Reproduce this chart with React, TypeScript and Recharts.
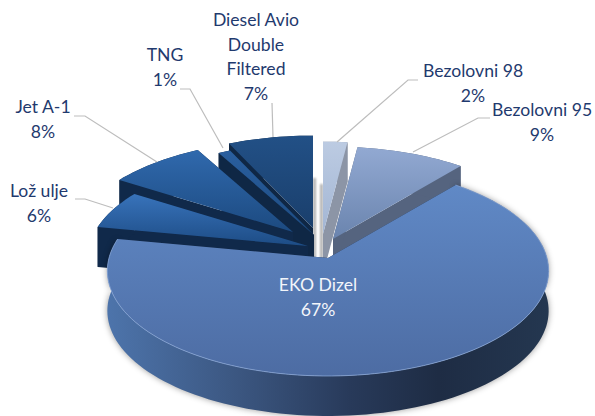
import { Pie, PieChart } from "recharts"

// listed counter-clockwise from 12 o'clock, so the back slices paint first
const categories = ["Diesel Avio\nDouble\nFiltered", "TNG", "Jet A-1", "Lož ulje", "EKO Dizel", "Bezolovni 95", "Bezolovni 98"]
const shares = [7, 1, 8, 6, 67, 9, 2]
const data = categories.map((name, i) => ({ name, value: shares[i] }))

const BIG = 4 // index of the big slice, painted on its own pass
const DEPTH = 40
const SQUASH = 0.473
const PERSPECTIVE = 0.122

// explode offsets, pixels from the pie centre
const OFFSETS = [[-15, -30], [-14, -23], [-35, -26], [-20, -12], [0, 0], [5, -19], [-5, -24]]
const TOP_COLORS = [
  ["#225086", "#1a3f6c"],
  ["#2a5f9f", "#1c4a80"],
  ["#3069ad", "#1c4a80"],
  ["#3873bb", "#1d4c85"],
  ["#6089c6", "#4d6ca3"],
  ["#92a9d2", "#6a84ae"],
  ["#bccbe2", "#a3b6d4"],
]
const WALL_COLORS = ["#0f2745", "#0f2745", "#10294a", "#10294a", "url(#bigWall)", "#55647f", "#8c95a6"]
// soft shade in the gap next to the 12 o'clock cut
const GAP_SHADE_X = [0, null, null, null, null, null, -3]

const LABEL_X = [256, 165, 43, 39, 318, 542, 473]
const LABEL_Y = [22, 57, 109, 193, 287, 112, 73]
const LEADERS = [
  "273,137 272,103",
  "223,148 190,89 180,89",
  "157,162 85,116 74,116",
  "113,208 85,199 75,199",
  "",
  "413,152 478,118 490,118",
  "337,142 408,80 418,80",
]

const project = (angle: number, r: number) => {
  const rad = (angle * Math.PI) / 180
  const w = 1 + PERSPECTIVE * Math.sin(rad)
  return { x: (r * Math.cos(rad)) / w, y: (-r * SQUASH * Math.sin(rad)) / w }
}

const Slice = ({ cx, cy, outerRadius, startAngle, endAngle, index }: any) => {
  const [ox, oy] = OFFSETS[index]
  const ax = cx + ox
  const ay = cy + oy
  const arc: { x: number; y: number }[] = []
  const steps = Math.max(2, Math.ceil(Math.abs(startAngle - endAngle) / 2))
  for (let s = 0; s <= steps; s++) {
    const p = project(startAngle + ((endAngle - startAngle) * s) / steps, outerRadius)
    arc.push({ x: ax + p.x, y: ay + p.y })
  }
  const line = arc.map((p) => `${p.x},${p.y}`).join(" L")
  const lowered = [...arc].reverse().map((p) => `${p.x},${p.y + DEPTH}`).join(" L")
  const first = arc[0]
  const last = arc[arc.length - 1]
  const wall = WALL_COLORS[index]
  const flat = index === BIG ? "#1f2e47" : wall
  const shade = GAP_SHADE_X[index]
  return (
    <g>
      {shade !== null && (
        <rect
          x={ax + shade}
          y={ay - 50}
          width={3}
          height={85}
          fill="#8f8f8f"
          opacity={0.7}
          style={{ filter: "blur(1px)" }}
        />
      )}
      <path d={`M${ax},${ay} L${first.x},${first.y} L${first.x},${first.y + DEPTH} L${ax},${ay + DEPTH}Z`} fill={flat} />
      <path d={`M${ax},${ay} L${last.x},${last.y} L${last.x},${last.y + DEPTH} L${ax},${ay + DEPTH}Z`} fill={flat} />
      <path
        d={`M${line} L${lowered}Z`}
        fill={wall}
        style={index === BIG ? { filter: "drop-shadow(0 0 3px rgba(0,0,0,.4))" } : undefined}
      />
      <path d={`M${ax},${ay} L${line}Z`} fill={`url(#top${index})`} />
      {index === BIG && <path d={`M${line}`} fill="none" stroke="#86a5d6" strokeWidth={0.8} />}
    </g>
  )
}

const SliceLabel = ({ index, name, value }: any) => {
  const lines = [...String(name).split("\n"), `${value}%`]
  return (
    <text
      x={LABEL_X[index]}
      y={LABEL_Y[index]}
      textAnchor="middle"
      fontFamily="Lato, 'Open Sans', sans-serif"
      fontSize={17.6}
      fill={index === BIG ? "#f2f5fa" : "#1f3a6e"}
    >
      {lines.map((l, i) => (
        <tspan key={i} x={LABEL_X[index]} y={LABEL_Y[index] + i * 24.5} dominantBaseline="middle">
          {l}
        </tspan>
      ))}
    </text>
  )
}

const Leader = ({ index }: any) =>
  LEADERS[index] ? <polyline points={LEADERS[index]} fill="none" stroke="#bdbdbd" strokeWidth={1.2} /> : <g />

export default function App() {
  return (
    <div style={{ position: "absolute", left: 0, top: 0, width: 595, height: 416, overflow: "hidden", background: "#fff" }}>
      <PieChart width={595} height={416} margin={{ top: 0, right: 0, bottom: 0, left: 0 }}>
        <defs>
          {TOP_COLORS.map(([a, b], i) => (
            <linearGradient key={i} id={`top${i}`} x1="0" y1="0" x2="0" y2="1">
              <stop offset="0%" stopColor={a} />
              <stop offset="100%" stopColor={b} />
            </linearGradient>
          ))}
          <linearGradient id="bigWall" x1="0" y1="0" x2="1" y2="0">
            <stop offset="0%" stopColor="#4d74ab" />
            <stop offset="30%" stopColor="#3b5680" />
            <stop offset="55%" stopColor="#283a5a" />
            <stop offset="75%" stopColor="#1e2c44" />
            <stop offset="100%" stopColor="#243750" />
          </linearGradient>
        </defs>
        {/* two passes over the same angles so the big slice sits on top */}
        <Pie
          data={data}
          dataKey="value"
          nameKey="name"
          cx={328}
          cy={258}
          outerRadius={219}
          startAngle={90}
          endAngle={450}
          stroke="none"
          isAnimationActive={false}
          shape={(p: any) => (p.index === BIG ? <g /> : <Slice {...p} />)}
        />
        <Pie
          data={data}
          dataKey="value"
          nameKey="name"
          cx={328}
          cy={258}
          outerRadius={219}
          startAngle={90}
          endAngle={450}
          stroke="none"
          isAnimationActive={false}
          shape={(p: any) => (p.index === BIG ? <Slice {...p} /> : <g />)}
          label={(p: any) => <SliceLabel {...p} />}
          labelLine={(p: any) => <Leader {...p} />}
        />
      </PieChart>
    </div>
  )
}
